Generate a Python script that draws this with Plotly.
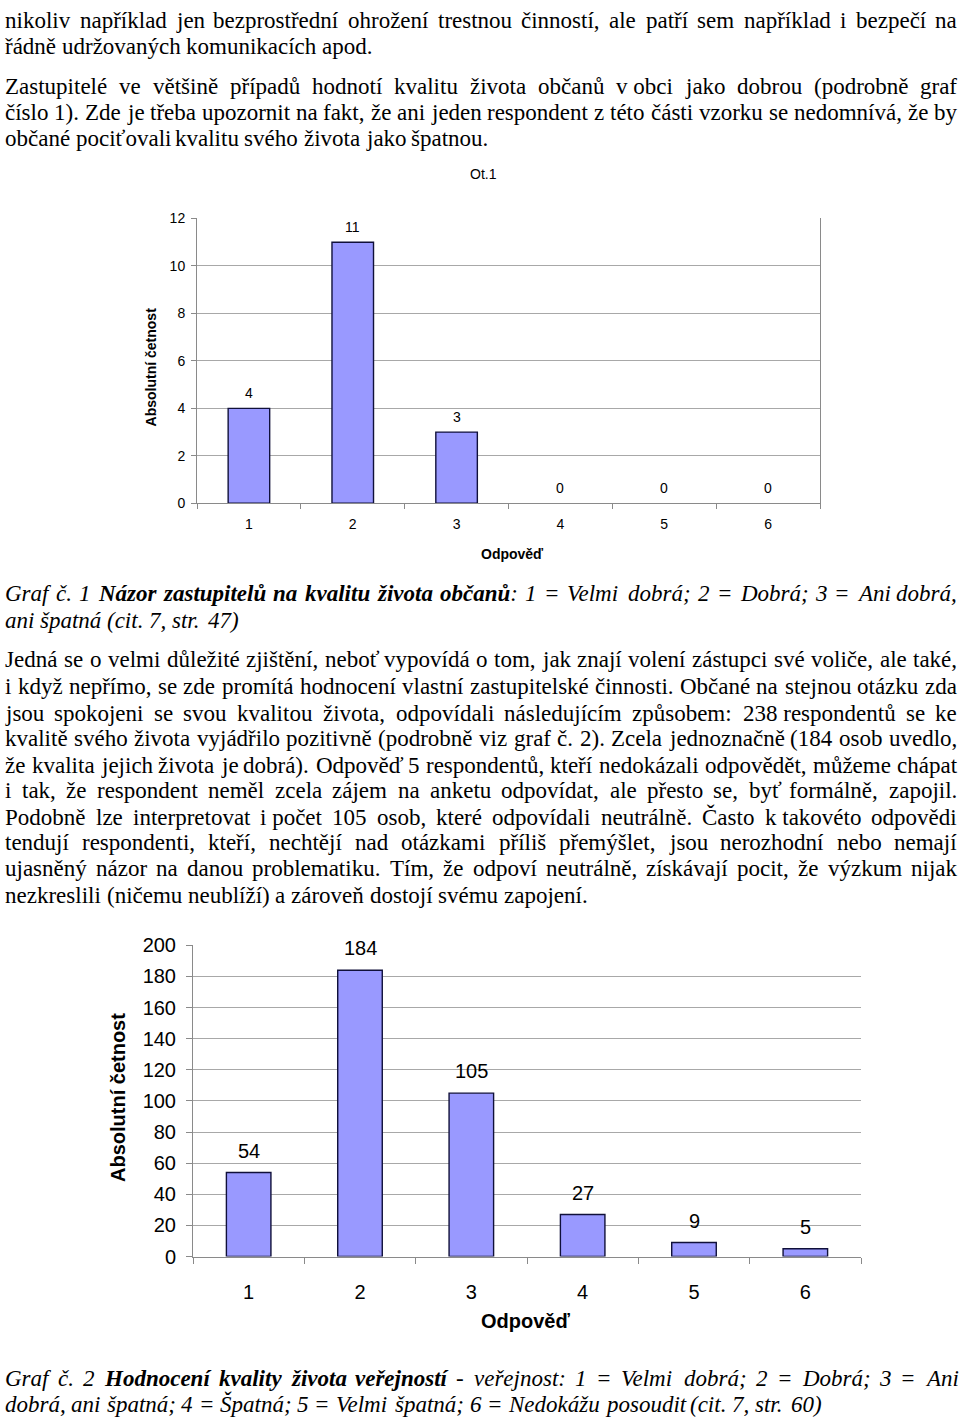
import unicodedata
import plotly.graph_objects as go

W, H = 960, 1428

# ---------------- chart data ----------------
answers = ["1", "2", "3", "4", "5", "6"]
zastupitele_counts = [4, 11, 3, 0, 0, 0]
verejnost_counts = [54, 184, 105, 27, 9, 5]
y1_ticks = [0, 2, 4, 6, 8, 10, 12]
y2_ticks = [0, 20, 40, 60, 80, 100, 120, 140, 160, 180, 200]
chart1_title = "Ot.1"
x_title = "Odpověď"
y_title = "Absolutní četnost"

NB = "\u00a0"
# ---------------- page text (baseline y, justified, segments) ----------------
text_lines = [
    (17, True, [("r", "nikoliv například jen bezprostřední ohrožení trestnou činností, ale patří sem například i bezpečí na")]),
    (43.5, False, [("r", "řádně udržovaných komunikacích apod.")]),
    (84, True, [("r", "Zastupitelé ve většině případů hodnotí kvalitu života občanů v" + NB + "obci jako dobrou (podrobně graf")]),
    (110.5, True, [("r", "číslo 1). Zde je třeba upozornit na fakt, že ani jeden respondent z této části vzorku se nedomnívá, že by")]),
    (137, False, [("r", "občané pociťovali kvalitu svého života jako špatnou.")]),
    (599, True, [("i", "Graf č. 1 "), ("bi", "Názor zastupitelů na kvalitu života občanů"), ("i", ": 1 = Velmi dobrá; 2 = Dobrá; 3 = Ani dobrá,")]),
    (626, False, [("i", "ani špatná (cit. 7, str. 47)")]),
    (666, True, [("r", "Jedná se o velmi důležité zjištění, neboť vypovídá o tom, jak znají volení zástupci své voliče, ale také,")]),
    (693, True, [("r", "i když nepřímo, se zde promítá hodnocení vlastní zastupitelské činnosti. Občané na stejnou otázku zda")]),
    (720, True, [("r", "jsou spokojeni se svou kvalitou života, odpovídali následujícím způsobem: 238" + NB + "respondentů se ke")]),
    (746, True, [("r", "kvalitě svého života vyjádřilo pozitivně (podrobně viz graf č. 2). Zcela jednoznačně (184 osob uvedlo,")]),
    (773, True, [("r", "že kvalita jejich života je dobrá). Odpověď 5 respondentů, kteří nedokázali odpovědět, můžeme chápat")]),
    (799, True, [("r", "i tak, že respondent neměl zcela zájem na anketu odpovídat, ale přesto se, byť formálně, zapojil.")]),
    (826, True, [("r", "Podobně lze interpretovat i" + NB + "počet 105 osob, které odpovídali neutrálně. Často k" + NB + "takovéto odpovědi")]),
    (852, True, [("r", "tendují respondenti, kteří, nechtějí nad otázkami příliš přemýšlet, jsou nerozhodní nebo nemají")]),
    (878, True, [("r", "ujasněný názor na danou problematiku. Tím, že odpoví neutrálně, získávají pocit, že výzkum nijak")]),
    (905, False, [("r", "nezkreslili (ničemu neublíží) a zároveň dostojí svému zapojení.")]),
    (1396, True, [("i", "Graf č. 2 "), ("bi", "Hodnocení kvality života veřejností"), ("i", " - veřejnost: 1 = Velmi dobrá; 2 = Dobrá; 3 = Ani")]),
    (1422, False, [("i", "dobrá, ani špatná; 4 = Špatná; 5 = Velmi špatná; 6 = Nedokážu posoudit (cit. 7, str. 60)")]),
]

TEXT_SIZE = 23
TEXT_X0, TEXT_X1 = 4, 956

# approximate Times (Liberation Serif) advance widths per 1000 em
_lower = "abcdefghijklmnopqrstuvwxyz"
_upper = "ABCDEFGHIJKLMNOPQRSTUVWXYZ"
_metrics = {
    "r": ([444, 500, 444, 500, 444, 333, 500, 500, 278, 278, 500, 278, 778, 500, 500, 500, 500, 333, 389, 278, 500, 500, 722, 500, 500, 444],
          [722, 667, 667, 722, 611, 556, 722, 722, 333, 389, 722, 611, 889, 722, 722, 556, 722, 667, 556, 611, 722, 722, 944, 722, 722, 611],
          {":": 278, ";": 278, "=": 564}),
    "i": ([500, 500, 444, 500, 444, 278, 500, 500, 278, 278, 444, 278, 722, 500, 500, 500, 500, 389, 389, 278, 500, 444, 667, 444, 444, 389],
          [611, 611, 667, 722, 611, 611, 722, 722, 333, 444, 667, 556, 833, 667, 722, 611, 722, 611, 500, 556, 722, 611, 833, 611, 556, 556],
          {":": 333, ";": 333, "=": 675}),
    "bi": ([500, 500, 444, 500, 444, 333, 500, 556, 278, 278, 500, 278, 778, 556, 500, 500, 500, 389, 389, 278, 556, 444, 667, 500, 444, 389],
           [667, 667, 667, 722, 667, 667, 722, 778, 389, 500, 667, 611, 889, 722, 722, 611, 722, 667, 556, 611, 722, 667, 889, 667, 611, 611],
           {":": 333, ";": 333, "=": 570}),
}
_common = {" ": 250, NB: 250, "(": 333, ")": 333, ",": 250, "-": 333, ".": 250}


def char_w(ch, style):
    low, up, extra = _metrics[style]
    if ch == "ť":
        return 326
    if ch == "ď":
        return 588
    base = unicodedata.normalize("NFD", ch)[0]
    if base in _lower:
        return low[_lower.index(base)]
    if base in _upper:
        return up[_upper.index(base)]
    if base.isdigit():
        return 500
    if base in extra:
        return extra[base]
    return _common.get(base, 500)


def tokenize(segments):
    words, cur = [], []
    for style, txt in segments:
        for ch in txt:
            if ch == " ":
                if cur:
                    words.append(cur)
                cur = []
            else:
                if cur and cur[-1][0] == style:
                    cur[-1] = (style, cur[-1][1] + ch)
                else:
                    cur.append((style, ch))
    if cur:
        words.append(cur)
    return words


def markup(word):
    out = ""
    for style, txt in word:
        if style == "i":
            out += "<i>" + txt + "</i>"
        elif style == "bi":
            out += "<b><i>" + txt + "</i></b>"
        else:
            out += txt
    return out


def word_width(word):
    return sum(char_w(c, s) for s, t in word for c in t) * TEXT_SIZE / 1000.0


annotations = []
for base_y, justify, segs in text_lines:
    words = tokenize(segs)
    widths = [word_width(w) for w in words]
    if justify and len(words) > 1:
        gap = (TEXT_X1 - TEXT_X0 - sum(widths)) / (len(words) - 1)
    else:
        gap = 250 * TEXT_SIZE / 1000.0
    x = TEXT_X0
    for w, wd in zip(words, widths):
        annotations.append(dict(
            text=markup(w), x=x / W, y=1 - (base_y - 7) / H, xref="paper", yref="paper",
            xanchor="left", yanchor="middle", showarrow=False, borderpad=0,
            font=dict(family="Liberation Serif", size=TEXT_SIZE, color="black"),
        ))
        x += wd + gap

# ---------------- charts ----------------
SANS = "Liberation Sans"
BAR_FILL = "#9999FF"
BAR_LINE = "#10103a"
GRID = "#a8a8a8"
AXIS = "#8a8a8a"
C1_FONT = 14

fig = go.Figure()
fig.add_trace(go.Bar(x=answers, y=zastupitele_counts, width=0.4, xaxis="x", yaxis="y",
                     marker=dict(color=BAR_FILL,
                                 line=dict(color=BAR_LINE,
                                           width=[1.4 if v > 0 else 0 for v in zastupitele_counts])),
                     hoverinfo="x+y"))
fig.add_trace(go.Bar(x=answers, y=verejnost_counts, width=0.4, xaxis="x2", yaxis="y2",
                     marker=dict(color=BAR_FILL,
                                 line=dict(color=BAR_LINE,
                                           width=[1.4 if v > 0 else 0 for v in verejnost_counts])),
                     hoverinfo="x+y"))

# value labels above bars (category index positions)
for i, v in enumerate(zastupitele_counts):
    annotations.append(dict(text=str(v), x=i, y=v, xref="x", yref="y", yshift=15,
                            showarrow=False, xanchor="center", yanchor="middle",
                            font=dict(family=SANS, size=C1_FONT, color="black")))
for i, v in enumerate(verejnost_counts):
    annotations.append(dict(text=str(v), x=i, y=v, xref="x2", yref="y2", yshift=22,
                            showarrow=False, xanchor="center", yanchor="middle",
                            font=dict(family=SANS, size=20, color="black")))

# titles
def paper_text(txt, x, y, size, angle=0):
    return dict(text=txt, x=x / W, y=1 - y / H, xref="paper", yref="paper", showarrow=False,
                xanchor="center", yanchor="middle", textangle=angle,
                font=dict(family=SANS, size=size, color="black"))

annotations += [
    paper_text(chart1_title, 483, 166, C1_FONT),
    paper_text("<b>" + x_title + "</b>", 512, 552, 14),
    paper_text("<b>" + y_title + "</b>", 151, 362, 14, -90),
    paper_text("<b>" + x_title + "</b>", 525, 1330, 20),
    paper_text("<b>" + y_title + "</b>", 118, 1104, 20, -90),
]

xcommon = dict(type="category", range=[-0.5, 5.5], tickson="boundaries", ticks="outside",
               tickcolor=AXIS, showline=True, linecolor=AXIS, linewidth=1, showgrid=False,
               zeroline=False, fixedrange=True)
ycommon = dict(ticks="outside", tickcolor=AXIS, showline=True, linecolor=AXIS, linewidth=1,
               showgrid=True, gridcolor=GRID, gridwidth=1, zeroline=False, fixedrange=True)

fig.update_layout(
    width=W, height=H, margin=dict(l=0, r=0, t=0, b=0, pad=0),
    paper_bgcolor="white", plot_bgcolor="white", showlegend=False,
    xaxis=dict(xcommon, domain=[197 / W, 820 / W], anchor="y", ticklen=5,
               tickfont=dict(family=SANS, size=C1_FONT, color="black"), ticklabelstandoff=8),
    yaxis=dict(ycommon, domain=[1 - 500 / H, 1 - 210.7 / H], anchor="x", range=[0, 12],
               tickvals=y1_ticks, ticklen=5, mirror=True, ticklabelstandoff=3,
               tickfont=dict(family=SANS, size=C1_FONT, color="black")),
    xaxis2=dict(xcommon, domain=[193 / W, 861 / W], anchor="y2", ticklen=6,
                tickfont=dict(family=SANS, size=20, color="black"), ticklabelstandoff=17),
    yaxis2=dict(ycommon, domain=[1 - 1265 / H, 1 - 949 / H], anchor="x2", range=[0, 200],
                tickvals=y2_ticks, ticklen=6,
                tickfont=dict(family=SANS, size=20, color="black"), ticklabelstandoff=6),
    annotations=annotations,
)

fig.write_html("out.html")
